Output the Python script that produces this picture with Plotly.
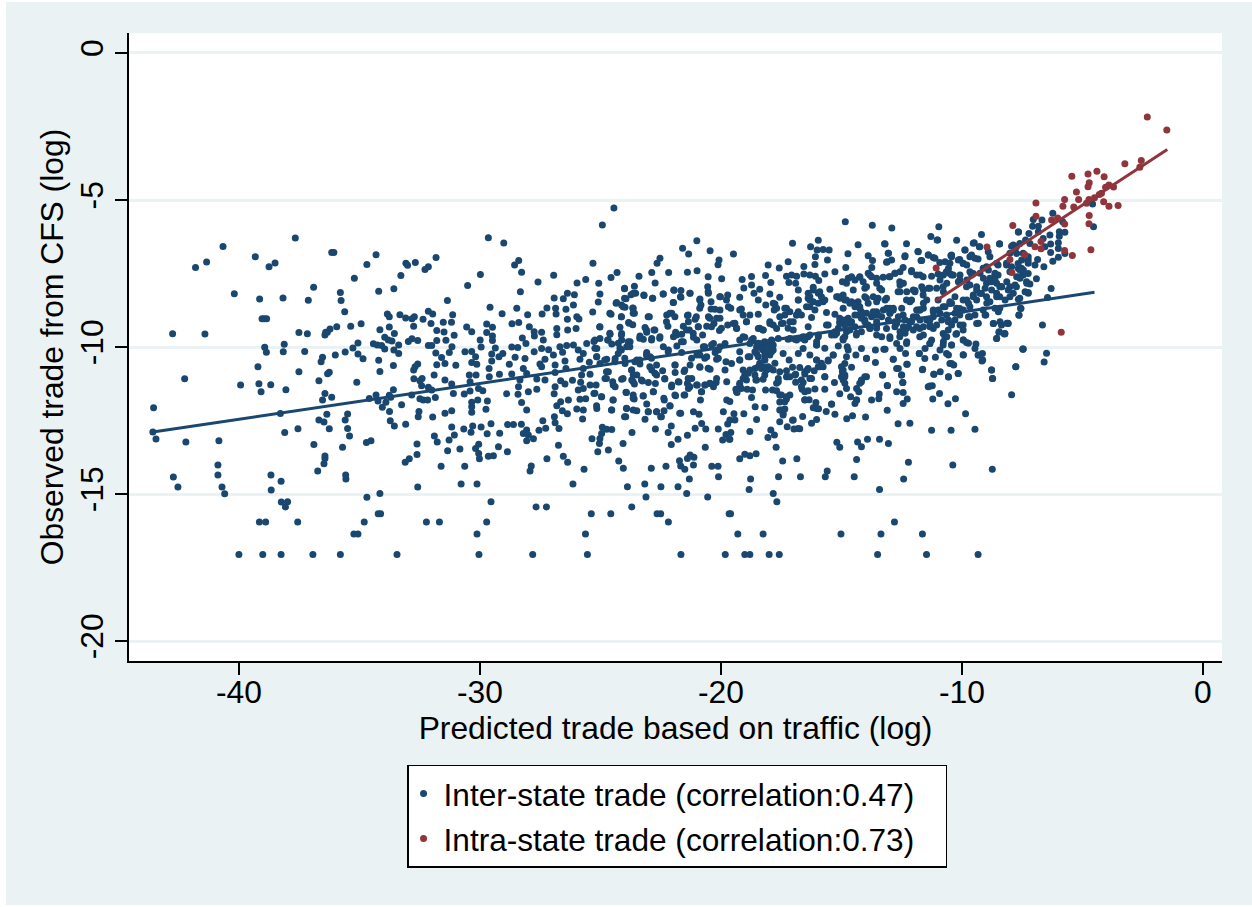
import plotly.graph_objects as go

inter_points = [
(-40.66,-6.58),(-37.66,-6.29),(-36.06,-6.79),(-36.15,-6.79),(-34.31,-6.86),(-39.32,-6.93),(-41.34,-7.11),(-41.80,-7.30),(-38.75,-7.27),(-38.50,-7.14),(-34.69,-7.19),(-33.07,-7.15),(-33.0,-7.22),(-32.68,-7.13),(-32.28,-7.36),(-32.14,-7.27),(-33.28,-7.57),(-35.21,-7.66),(-36.90,-7.97),(-34.20,-8.10),(-33.57,-8.02),(-35.79,-8.15),(-40.19,-8.19),(-39.14,-8.37),(-38.17,-8.33),(-37.12,-8.41),(-35.76,-8.42),(-35.61,-8.80),(-33.84,-8.88),(-33.76,-8.97),(-33.32,-8.90),(-33.08,-9.01),(-32.72,-8.97),(-32.82,-9.04),(-32.36,-9.06),(-32.14,-8.78),(-38.95,-9.04),(-39.04,-9.04),(-38.85,-9.04),(-35.36,-9.29),(-34.93,-9.21),(-35.94,-9.31),(-36.22,-9.39),(-36.33,-9.50),(-36.43,-9.59),(-36.40,-9.50),(-37.51,-9.51),(-37.16,-9.55),(-42.75,-9.55),(-41.41,-9.56),(-34.15,-9.41),(-33.76,-9.32),(-33.55,-9.54),(-32.75,-9.29),(-38.12,-9.91),(-38.93,-10.01),(-38.86,-10.18),(-38.16,-10.16),(-37.27,-10.15),(-36.0,-10.27),(-35.59,-10.17),(-35.27,-10.03),(-35.06,-9.86),(-35.06,-10.24),(-34.85,-10.40),(-34.42,-9.89),(-34.26,-9.93),(-34.08,-9.95),(-33.95,-9.67),(-33.80,-9.76),(-33.65,-9.80),(-32.97,-9.81),(-32.82,-9.72),(-32.58,-9.78),(-33.95,-10.07),(-33.57,-10.10),(-33.37,-9.93),(-33.37,-10.22),(-32.14,-9.95),(-36.53,-10.35),(-36.59,-10.50),(-39.21,-10.67),(-37.51,-10.84),(-36.25,-10.86),(-36.32,-10.91),(-34.20,-10.45),(-34.15,-10.83),(-33.59,-10.63),(-32.58,-10.58),(-32.69,-10.67),(-32.75,-10.78),(-42.25,-11.08),(-36.68,-11.15),(-35.11,-11.20),(-32.74,-11.08),(-32.40,-11.07),(-32.49,-11.15),(-39.93,-11.29),(-39.17,-11.25),(-38.68,-11.28),(-38.05,-11.45),(-39.08,-11.52),(-36.43,-11.58),(-33.59,-11.45),(-32.42,-11.32),(-32.14,-11.37),(-36.15,-11.71),(-36.53,-11.80),(-34.59,-11.75),(-34.31,-11.63),(-33.76,-11.64),(-33.70,-11.71),(-34.23,-11.84),(-32.83,-11.63),(-32.49,-11.76),(-32.35,-11.80),(-32.17,-11.80),(-43.54,-12.07),(-33.90,-11.88),(-34.05,-12.05),(-33.25,-11.96),(-33.75,-12.19),(-38.28,-12.26),(-36.35,-12.29),(-35.49,-12.28),(-32.53,-12.19),(-32.56,-12.37),(-36.68,-12.48),(-36.47,-12.55),(-35.59,-12.48),(-33.72,-12.51),(-33.55,-12.69),(-33.08,-12.63),(-43.57,-12.89),(-37.55,-12.78),(-36.25,-12.78),(-35.49,-12.77),(-38.10,-12.91),(-35.41,-13.03),(-43.44,-13.13),(-42.20,-13.23),(-40.83,-13.19),(-34.71,-13.25),(-34.52,-13.19),(-36.89,-13.32),(-35.70,-13.41),(-32.61,-13.30),(-36.43,-13.71),(-36.43,-13.79),(-32.61,-13.66),(-32.93,-13.80),(-33.10,-13.92),(-36.47,-13.97),(-40.87,-14.01),(-36.73,-14.22),(-35.57,-14.35),(-35.56,-14.49),(-40.87,-14.35),(-42.72,-14.42),(-38.67,-14.35),(-38.25,-14.57),(-42.53,-14.76),(-40.70,-14.76),(-38.66,-14.86),(-32.58,-14.76),(-40.59,-14.99),(-34.15,-14.98),(-34.69,-15.11),(-38.24,-15.27),(-37.98,-15.26),(-38.07,-15.44),(-34.12,-15.67),(-34.22,-15.67),(-39.15,-15.95),(-38.89,-15.95),(-37.56,-15.95),(-34.80,-15.95),(-32.22,-15.95),(-35.23,-16.36),(-35.06,-16.36),(-40.0,-17.06),(-39.01,-17.06),(-38.25,-17.06),(-36.93,-17.06),(-35.79,-17.06),(-33.44,-17.06),
(-24.44,-5.27),(-24.92,-5.85),(-29.65,-6.28),(-29.01,-6.46),(-31.82,-6.96),(-28.39,-7.06),(-28.56,-7.21),(-28.27,-7.46),(-29.98,-7.53),(-30.51,-7.91),(-27.59,-7.79),(-26.94,-7.56),(-25.97,-7.82),(-25.61,-7.70),(-25.31,-7.15),(-25.07,-7.83),(-24.56,-7.64),(-24.31,-7.47),(-23.40,-7.59),(-22.87,-7.47),(-22.73,-7.82),(-22.17,-7.47),(-22.53,-6.98),(-22.65,-7.15),(-21.59,-6.64),(-21.34,-6.84),(-21.0,-6.39),(-20.45,-6.73),(-20.08,-7.04),(-20.12,-7.20),(-21.39,-7.46),(-20.99,-7.41),(-20.53,-7.61),(-19.97,-7.68),
(-24.0,-8.02),(-23.59,-7.93),(-28.32,-8.12),(-26.92,-8.33),(-26.54,-8.36),(-26.37,-8.17),(-26.08,-8.22),(-25.02,-8.20),(-25.09,-8.47),(-23.73,-8.22),(-23.54,-8.17),(-23.19,-8.25),(-22.83,-8.34),(-22.39,-8.20),(-21.95,-8.07),(-21.66,-8.08),(-21.66,-8.31),(-21.28,-8.17),(-20.55,-7.95),(-20.52,-8.17),(-20.87,-8.37),(-20.02,-8.29),(-19.72,-8.23),(-23.94,-8.36),
(-31.35,-8.42),(-29.58,-8.65),(-28.47,-8.68),(-27.22,-8.67),(-26.86,-8.68),(-26.43,-8.72),(-26.12,-8.57),(-25.32,-8.81),(-24.35,-8.51),(-24.12,-8.57),(-23.98,-8.65),(-23.66,-8.67),(-21.97,-8.49),(-20.83,-8.57),(-20.41,-8.46),(-20.41,-8.71),(-20.04,-8.74),(-19.69,-8.63),
(-29.08,-8.87),(-31.13,-8.90),(-31.96,-8.88),(-28.02,-8.90),(-27.42,-8.88),(-26.84,-8.88),(-25.98,-8.97),(-24.56,-8.89),(-23.59,-8.85),(-22.97,-8.97),(-22.25,-8.91),(-22.04,-8.85),(-21.91,-8.97),(-21.39,-8.93),(-20.52,-8.97),(-20.04,-9.02),
(-26.37,-9.06),(-25.89,-9.05),(-24.13,-8.97),(-31.52,-9.16),(-31.18,-9.16),(-32.03,-9.20),(-29.72,-9.22),(-28.67,-9.21),(-28.39,-9.17),(-23.83,-9.17),(-23.66,-9.24),(-22.2,-9.29),(-21.07,-9.06),(-21.35,-9.14),(-21.56,-9.29),(-20.59,-9.29),(-20.29,-9.20),(-19.72,-9.25),
(-30.55,-9.32),(-30.34,-9.48),(-29.48,-9.33),(-31.79,-9.44),(-31.49,-9.49),(-31.07,-9.60),(-27.95,-9.31),(-26.81,-9.37),(-26.36,-9.42),(-26.01,-9.37),(-25.02,-9.32),(-24.19,-9.33),(-23.15,-9.34),(-22.78,-9.42),(-23.08,-9.50),(-21.88,-9.50),(-21.63,-9.57),(-21.31,-9.42),(-20.94,-9.31),(-20.06,-9.44),
(-29.72,-9.51),(-29.48,-9.63),(-27.75,-9.48),(-27.44,-9.50),(-26.81,-9.58),(-27.74,-9.63),(-24.6,-9.57),(-24.12,-9.54),(-23.36,-9.63),(-22.53,-9.65),(-21.97,-9.65),(-20.76,-9.59),(-21.14,-9.67),
(-29.99,-9.76),(-29.48,-9.78),(-28.24,-9.69),(-27.37,-9.76),(-28.09,-9.88),(-31.79,-9.78),(-31.41,-9.77),(-32.0,-9.95),(-31.16,-9.99),(-25.57,-9.88),(-25.27,-9.81),(-25.02,-9.71),(-24.7,-9.76),(-24.53,-9.90),(-24.12,-9.76),(-23.77,-9.82),(-23.22,-9.74),(-22.87,-9.71),(-21.83,-9.97),(-21.56,-9.82),(-21.0,-9.76),(-20.31,-9.88),(-19.83,-9.88),
(-29.95,-10.0),(-29.36,-10.03),(-28.68,-10.0),(-28.43,-10.02),(-27.44,-10.05),(-27.15,-10.09),(-26.68,-9.99),(-26.4,-9.95),(-26.12,-9.93),(-25.92,-10.10),(-25.15,-10.05),(-24.19,-10.05),(-23.91,-9.99),(-22.39,-9.99),(-22.18,-10.10),(-20.73,-9.99),(-20.04,-9.99),
(-30.62,-10.16),(-30.34,-10.15),(-31.83,-10.20),(-31.27,-10.19),(-29.51,-10.24),(-29.05,-10.22),(-27.75,-10.16),(-26.95,-10.27),(-26.57,-10.18),(-25.71,-10.22),(-24.26,-10.22),(-23.08,-10.19),(-21.63,-10.19),(-20.87,-10.27),(-20.24,-10.19),
(-31.59,-10.36),(-30.18,-10.33),(-29.21,-10.33),(-28.13,-10.39),(-28.54,-10.35),(-27.3,-10.42),(-26.47,-10.48),(-25.85,-10.42),(-25.15,-10.33),(-24.74,-10.42),(-24.39,-10.39),(-23.49,-10.44),(-22.94,-10.33),(-20.59,-10.33),(-20.18,-10.42),(-19.79,-10.50),
(-31.79,-10.60),(-31.45,-10.56),(-31.0,-10.62),(-30.34,-10.53),(-30.13,-10.59),(-29.51,-10.48),(-28.78,-10.59),(-27.51,-10.58),(-26.88,-10.61),(-25.46,-10.52),(-25.02,-10.56),(-23.98,-10.56),(-23.36,-10.58),(-22.67,-10.61),(-21.9,-10.61),(-21.28,-10.61),(-20.87,-10.69),
(-29.62,-10.73),(-28.2,-10.73),(-27.44,-10.67),(-26.43,-10.73),(-25.71,-10.73),(-24.67,-10.84),(-23.7,-10.78),(-22.87,-10.78),(-22.42,-10.81),(-21.53,-10.83),(-20.45,-10.76),(-19.83,-10.78),
(-31.9,-10.95),(-30.44,-10.95),(-30.16,-10.95),(-29.19,-10.93),(-28.68,-10.92),(-29.61,-11.01),(-28.06,-10.90),(-26.88,-10.87),(-25.43,-10.93),(-25.78,-10.95),(-23.49,-10.95),(-22.67,-10.95),(-21.9,-10.87),
(-31.45,-11.12),(-30.41,-11.18),(-31.17,-11.26),(-27.64,-11.09),(-27.3,-11.12),(-28.34,-11.12),(-26.65,-11.15),(-26.16,-11.13),(-24.81,-11.07),(-24.49,-11.18),(-24.12,-11.10),(-23.7,-11.12),(-23.26,-11.16),(-22.33,-11.09),(-21.74,-11.19),(-21.21,-11.07),(-20.45,-11.24),(-19.76,-11.18),
(-28.4,-11.35),(-26.88,-11.35),(-26.47,-11.26),(-25.82,-11.20),(-25.43,-11.29),(-25.18,-11.29),(-24.39,-11.35),(-23.59,-11.26),(-23.01,-11.21),(-22.72,-11.24),(-22.04,-11.29),(-21.39,-11.24),(-20.98,-11.29),(-20.66,-11.29),(-20.2,-11.21),
(-32.0,-11.46),(-30.06,-11.41),(-29.88,-11.49),(-30.41,-11.5),(-30.65,-11.60),(-31.1,-11.58),(-28.89,-11.59),(-28.42,-11.61),(-27.99,-11.52),(-27.64,-11.44),(-26.92,-11.59),(-25.92,-11.46),(-25.71,-11.41),(-25.27,-11.58),(-24.95,-11.69),(-23.94,-11.54),(-23.22,-11.66),(-22.8,-11.52),(-21.88,-11.66),(-21.53,-11.63),(-21.35,-11.41),(-20.8,-11.52),(-20.31,-11.35),
(-31.85,-11.72),(-30.09,-11.80),(-29.69,-11.84),(-30.34,-11.88),(-28.27,-11.89),(-26.65,-11.86),(-26.33,-11.80),(-25.85,-11.78),(-25.61,-11.76),(-24.48,-11.80),(-23.6,-11.77),(-22.35,-11.80),(-20.85,-11.80),(-19.76,-11.80),
(-30.34,-12.03),(-29.75,-12.12),(-28.06,-12.14),(-26.81,-12.0),(-26.58,-12.17),(-26.37,-12.27),(-25.98,-12.11),(-25.71,-12.14),(-25.15,-12.09),(-24.53,-12.14),(-23.91,-12.09),(-23.49,-12.17),(-23.08,-11.94),(-23.01,-12.2),(-22.67,-12.2),(-22.36,-12.17),(-22.11,-12.01),(-21.67,-12.25),(-21.14,-12.2),(-20.91,-12.29),(-19.9,-12.2),
(-31.45,-12.25),(-31.17,-12.17),(-31.96,-12.38),(-30.34,-12.22),(-26.91,-12.37),(-25.74,-12.45),(-23.95,-12.37),(-23.15,-12.46),(-22.5,-12.37),(-27.39,-12.51),
(-31.17,-12.72),(-30.3,-12.69),(-29.95,-12.72),(-29.54,-12.61),(-28.85,-12.64),(-28.61,-12.64),(-28.28,-12.63),(-26.88,-12.58),(-27.27,-12.76),(-26.72,-12.77),(-27.55,-12.83),(-30.67,-12.79),(-30.37,-12.90),(-29.7,-12.95),(-29.18,-12.93),(-28.06,-12.82),(-28.2,-12.94),(-24.92,-12.73),(-24.74,-12.80),(-24.53,-12.81),(-23.69,-12.91),(-22.72,-12.79),(-22.06,-12.69),(-21.07,-12.76),(-20.8,-12.6),(-20.63,-12.79),(-20.11,-12.79),(-19.72,-12.62),(-22.19,-12.91),(-19.79,-12.98),
(-31.89,-13.03),(-31.77,-13.23),(-31.28,-13.16),(-31.06,-12.99),(-28.06,-13.19),(-27.78,-13.12),(-27.99,-12.99),(-24.95,-12.94),(-25.02,-13.11),(-25.35,-13.12),(-25.04,-13.28),(-24.06,-13.28),(-21.39,-13.0),(-21.78,-13.14),(-22.06,-13.32),(-19.93,-13.16),(-19.65,-13.14),
(-31.34,-13.53),(-30.83,-13.47),(-30.18,-13.45),(-30.05,-13.31),(-30.05,-13.62),(-30.02,-13.80),(-29.65,-13.72),(-29.44,-13.70),(-29.23,-13.39),(-28.86,-13.56),(-26.74,-13.34),(-26.54,-13.72),(-26.36,-13.92),(-27.22,-13.80),(-25.11,-13.56),(-24.67,-13.50),(-24.24,-13.88),(-24.05,-14.12),(-20.65,-13.41),(-21.72,-13.87),(-21.67,-14.05),(-21.5,-14.16),(-21.39,-13.79),(-21.28,-13.67),(-21.12,-13.75),(-21.14,-14.01),(-22.28,-14.06),(-22.89,-14.12),
(-31.61,-14.06),(-30.63,-14.06),(-27.92,-14.22),(-27.87,-14.05),(-25.68,-14.16),(-20.38,-14.06),(-20.12,-14.06),(-20.1,-14.41),(-21.31,-14.49),
(-30.78,-14.66),(-30.12,-14.66),(-26.14,-14.66),(-23.88,-14.75),(-23.16,-14.66),(-22.49,-14.75),(-21.78,-14.75),(-21.42,-14.98),(-23.11,-15.10),(-20.55,-15.10),
(-29.54,-15.26),(-27.67,-15.44),(-27.24,-15.44),(-23.7,-15.44),(-25.38,-15.67),(-24.57,-15.67),(-22.65,-15.67),(-22.5,-15.67),(-19.66,-15.67),(-31.68,-15.95),(-29.72,-15.95),(-22.18,-15.95),(-30.12,-16.36),(-25.62,-16.36),
(-30.04,-17.06),(-27.81,-17.06),(-25.54,-17.06),(-21.66,-17.06),(-19.82,-17.06),
(-14.84,-5.74),(-13.72,-5.86),(-12.91,-5.95),(-10.96,-5.91),(-17.03,-6.47),(-15.96,-6.37),(-19.48,-6.84),(-16.28,-6.59),(-16.01,-6.70),(-15.76,-6.68),(-15.51,-6.70),(-14.31,-6.52),(-13.21,-6.49),(-12.30,-6.49),(-11.29,-6.24),(-11.01,-6.36),(-10.22,-6.37),(-9.19,-6.17),(-9.28,-6.59),(-9.49,-6.45),(-9.88,-6.70),(-8.91,-6.76),(-8.44,-6.49),(-7.87,-6.53),(-7.65,-6.09),
(-14.73,-6.83),(-16.08,-6.93),(-15.58,-7.04),(-16.10,-7.19),(-17.21,-7.10),(-18.04,-7.21),(-17.58,-7.31),(-16.56,-7.26),(-14.82,-7.30),(-13.89,-6.90),(-13.71,-7.06),(-13.74,-7.30),(-13.06,-6.81),(-13.13,-7.12),(-12.92,-7.04),(-12.37,-6.93),(-12.44,-7.30),(-11.83,-6.75),(-11.70,-7.06),(-11.40,-6.87),(-11.19,-6.96),(-10.92,-7.13),(-10.46,-6.89),(-10.09,-7.02),(-9.67,-6.93),(-9.33,-7.01),(-9.95,-7.15),(-10.50,-7.15),(-8.98,-7.27),(-8.50,-7.21),(-8.01,-6.81),(-7.74,-6.59),(-7.46,-6.81),(-7.53,-7.32),(-7.25,-6.93),(-8.15,-7.15),
(-19.12,-7.70),(-18.73,-7.60),(-18.15,-7.57),(-17.93,-7.81),(-19.05,-7.99),(-18.73,-7.89),(-18.39,-8.04),(-18.63,-8.17),(-19.22,-8.31),(-17.28,-7.59),(-17.07,-7.55),(-16.86,-7.59),(-17.18,-7.81),(-16.9,-7.83),(-16.79,-8.06),(-16.56,-7.52),(-16.31,-7.55),(-16.08,-7.59),(-15.94,-7.74),(-16.17,-7.97),(-15.69,-7.52),(-15.27,-7.44),(-15.48,-8.04),(-14.96,-7.78),(-14.72,-7.66),(-14.24,-7.63),(-14.51,-8.06),(-13.89,-7.49),(-13.54,-7.66),(-13.27,-7.63),(-13.02,-7.61),(-12.78,-7.49),(-12.58,-7.78),(-12.09,-7.40),(-11.88,-7.55),(-11.61,-7.61),(-14.03,-8.0),(-13.41,-8.0),(-12.65,-8.12),(-11.95,-8.08),(-11.33,-8.0),(-11.26,-7.59),(-10.99,-7.52),(-10.64,-7.44),(-10.36,-7.55),(-9.67,-7.44),(-9.12,-7.32),(-8.63,-7.55),(-8.01,-7.44),(-7.46,-7.55),(-10.78,-7.95),(-10.09,-7.72),(-9.39,-7.95),(-8.98,-7.83),(-8.43,-7.95),(-7.74,-7.95),(-7.32,-7.78),
(-18.45,-8.40),(-17.97,-8.20),(-17.56,-8.31),(-18.14,-8.57),(-17.76,-8.54),(-16.79,-8.40),(-16.38,-8.34),(-15.96,-8.17),(-15.76,-8.46),(-16.31,-8.63),(-15.13,-8.29),(-14.79,-8.40),(-14.44,-8.51),(-13.96,-8.34),(-13.48,-8.34),(-13.13,-8.34),(-12.30,-8.40),(-12.09,-8.40),(-11.61,-8.23),(-10.99,-8.40),(-10.43,-8.51),(-9.95,-8.40),(-9.53,-8.29),(-8.98,-8.29),(-8.56,-8.17),(-8.01,-8.29),(-7.60,-8.34),(-7.25,-8.17),(-9.67,-8.63),(-9.12,-8.74),(-10.78,-8.63),(-10.22,-8.68),(-12.85,-8.68),(-13.54,-8.80),(-14.24,-8.68),(-14.93,-8.68),(-17.28,-8.68),(-16.79,-8.80),(-17.79,-8.74),(-19.15,-8.71),(-19.59,-8.68),(-11.75,-8.74),(-11.19,-8.80),(-8.43,-8.68),(-7.57,-8.68),
(-19.08,-8.91),(-18.45,-8.89),(-16.24,-9.0),(-15.62,-8.83),(-15.27,-8.89),(-14.17,-8.97),(-17.35,-8.91),(-16.86,-8.91),(-13.61,-8.91),(-12.99,-8.85),(-12.44,-8.91),(-11.88,-8.97),(-10.64,-8.91),(-10.09,-8.91),(-9.46,-8.91),(-9.01,-8.91),(-7.63,-8.91),(-18.94,-9.14),(-19.49,-9.2),(-17.97,-9.20),(-17.49,-9.20),(-17,-9.14),(-15.55,-9.25),(-15.07,-9.14),(-14.65,-9.20),(-14.03,-9.08),(-13.54,-9.25),(-12.71,-9.20),(-12.09,-9.14),(-11.33,-9.25),(-10.57,-9.14),(-9.95,-9.25),(-9.39,-9.20),(-8.7,-9.20),(-8.36,-9.25),(-8.08,-9.20),(-19.35,-9.37),(-18.45,-9.37),(-18.25,-9.42),(-17.69,-9.37),(-16.38,-9.31),(-15.27,-9.48),(-14.38,-9.59),(-13.82,-9.37),(-13.13,-9.37),(-12.30,-9.37),(-11.75,-9.37),(-11.19,-9.37),(-10.57,-9.42),(-10.22,-9.54),(-8.45,-9.48),(-8.22,-9.54),(-8.56,-9.71),
(-19.08,-9.65),(-18.66,-9.71),(-17.62,-9.71),(-17.14,-9.71),(-16.59,-9.65),(-15.96,-9.65),(-14.93,-9.71),(-13.54,-9.59),(-12.99,-9.71),(-12.58,-9.65),(-11.75,-9.65),(-10.71,-9.65),(-9.95,-9.76),(-9.81,-9.85),(-18.8,-9.88),(-18.25,-9.93),(-17.9,-9.88),(-16.03,-9.93),(-16.59,-10.05),(-15.13,-9.97),(-14.76,-9.99),(-14.17,-10.05),(-13.59,-10.10),(-13.24,-10.08),(-12.71,-9.88),(-12.3,-9.88),(-11.33,-9.88),(-10.78,-9.93),(-10.43,-9.93),(-9.42,-9.90),(-7.46,-10.07),(-19.22,-10.16),(-18.52,-10.22),(-17.9,-10.16),(-17.42,-10.22),(-16.79,-10.22),(-16.31,-10.27),(-15.34,-10.27),(-14.72,-10.10),(-14.4,-10.27),(-13.96,-10.39),(-12.34,-10.22),(-11.77,-10.22),(-11.54,-10.39),(-11.10,-10.35),(-10.64,-10.22),(-9.95,-10.26),(-9.33,-10.27),(-9.15,-10.22),
(-19.56,-10.56),(-19.22,-10.44),(-18.87,-10.33),(-18.18,-10.44),(-17.17,-10.44),(-16.03,-10.44),(-15.55,-10.48),(-14.86,-10.56),(-13.59,-10.53),(-12.85,-10.42),(-12.27,-10.59),(-10.5,-10.56),(-10.34,-10.61),(-9.17,-10.48),(-7.76,-10.67),(-19.08,-10.78),(-18.45,-10.67),(-17.97,-10.73),(-17.56,-10.84),(-17.28,-10.81),(-17.03,-10.69),(-16.73,-10.70),(-16.42,-10.78),(-16.13,-10.81),(-15.9,-10.67),(-14.58,-10.69),(-12.71,-10.73),(-12.51,-10.95),(-11.64,-10.77),(-8.77,-10.78),(-11.17,-10.93),(-10.90,-10.84),(-10.56,-11.02),(-10.16,-10.9),(-17.25,-11.01),(-16.9,-10.93),(-16.52,-10.92),(-16.28,-11.07),(-15.69,-11.01),(-14.96,-10.84),(-14.86,-11.01),(-13.96,-11.01),(-13.3,-10.95),(-8.73,-11.07),
(-19.01,-11.01),(-18.55,-11.12),(-18.25,-11.10),(-17.62,-11.18),(-16.9,-11.20),(-16.59,-11.21),(-15.29,-11.21),(-14.93,-11.12),(-14.17,-11.18),(-19.22,-11.29),(-18.91,-11.44),(-19.38,-11.44),(-18.69,-11.46),(-18.15,-11.46),(-17.86,-11.46),(-17.69,-11.49),(-16.63,-11.44),(-16.38,-11.49),(-16.10,-11.43),(-15.69,-11.44),(-14.79,-11.41),(-14.28,-11.52),(-13.09,-11.32),(-12.45,-11.21),(-11.4,-11.35),(-11.23,-11.32),(-12.71,-11.52),(-12.44,-11.55),(-19.33,-11.55),(-15.07,-11.59),(-17.56,-11.63),(-17.14,-11.63),(-14.62,-11.69),(-13.43,-11.60),(-10.93,-11.58),(-7.94,-11.62),(-18.73,-11.72),(-17.28,-11.77),(-16.52,-11.79),(-16.34,-11.79),(-14.37,-11.80),(-13.75,-11.80),(-13.45,-11.76),(-12.27,-11.77),(-11.21,-11.77),(-10.27,-11.76),
(-17.56,-11.87),(-16.06,-11.89),(-15.41,-11.95),(-14.44,-11.92),(-12.44,-11.92),(-10.58,-11.93),(-19.63,-11.85),(-18.58,-12.03),(-18.18,-12.06),(-16.17,-12.07),(-15.95,-12.10),(-15.63,-12.19),(-17.56,-12.14),(-17.35,-12.11),(-13.1,-12.15),(-15.27,-12.29),(-19.46,-12.27),(-19.05,-12.27),(-9.85,-12.27),(-17.42,-12.26),(-14.54,-12.34),(-16.61,-12.36),(-14.78,-12.44),(-14.0,-12.38),(-19.63,-12.48),(-19.42,-12.48),(-18.52,-12.47),(-17.56,-12.54),(-17.03,-12.49),(-16.03,-12.47),(-16.24,-12.59),(-12.65,-12.61),(-12.16,-12.59),(-17.25,-12.71),(-16.97,-12.79),(-16.73,-12.78),(-17.93,-12.82),(-18.8,-12.87),(-11.26,-12.83),(-10.45,-12.83),(-9.46,-12.80),(-19.59,-12.91),
(-17.78,-12.99),(-18.05,-13.08),(-19.63,-13.14),(-15.19,-13.24),(-15.07,-13.41),(-14.33,-13.23),(-14.17,-13.39),(-13.92,-13.14),(-13.42,-13.14),(-13.05,-13.28),(-17.71,-13.41),(-19.01,-13.65),(-18.8,-13.70),(-18.54,-13.63),(-19.22,-13.80),(-17.44,-13.88),(-16.85,-13.80),(-14.37,-13.83),(-12.22,-13.92),(-10.38,-14.01),(-15.59,-14.22),(-8.74,-14.16),(-17.61,-14.41),(-16.70,-14.41),(-15.67,-14.41),(-14.47,-14.41),(-18.77,-14.49),(-12.42,-14.49),(-18.83,-14.85),(-13.42,-14.85),(-17.83,-14.98),(-17.68,-15.26),(-19.6,-15.67),(-12.8,-15.95),(-19.3,-16.36),(-18.25,-16.36),(-15.02,-16.36),(-13.36,-16.36),(-11.64,-16.36),
(-19.01,-17.06),(-18.8,-17.06),(-18.0,-17.06),(-17.58,-17.06),(-13.5,-17.06),(-11.47,-17.06),(-9.33,-17.06),
(-4.58,-5.14),(-4.54,-5.91),(-6.23,-5.45),(-7.04,-5.66),(-6.68,-5.68),(-5.82,-5.74),(-6.83,-5.89),(-7.07,-5.89),(-7.22,-6.14),(-6.83,-6.08),(-5.96,-6.08),(-5.73,-6.10),(-6.35,-6.19),(-7.66,-6.09),(-5.96,-6.23),(-7.36,-6.36),(-6.63,-6.31),(-8.44,-6.5),(-6.32,-6.5),(-6.0,-6.45),(-6.0,-6.65),(-7.94,-6.57),(-7.6,-6.48),(-7.18,-6.48),(-6.56,-6.59),(-6.32,-6.79),(-5.73,-6.82),(-6.0,-6.95),(-6.23,-7.08),(-6.86,-7.02),(-6.6,-7.27),(-6.91,-7.68),(-7.73,-6.82),(-7.25,-7.04),(-8.15,-7.21),(-8.84,-6.93),(-7.67,-7.16),(-6.97,-7.21),(-7.25,-7.5),(-7.6,-7.61),(-8.01,-7.95),(-7.18,-7.86),(-7.66,-7.33),(-8.5,-7.55),(-8.77,-7.78),(-8.36,-7.95),(-9.19,-8.18),(-6.3,-8.01),(-6.45,-8.32),(-7.25,-8.15),(-7.66,-8.38),(-8.43,-8.29),(-8.84,-8.46),(-8.49,-8.8),(-7.55,-8.69),(-7.64,-8.92),(-8.69,-9.2),(-8.09,-9.19),(-8.47,-9.5),(-8.22,-9.55),(-6.66,-9.25),(-7.47,-10.08),(-6.49,-10.21),(-6.59,-10.51),
(-9.81,-7.95),(-9.53,-7.5),(-9.95,-7.16),(-10.43,-6.93),(-9.6,-6.87),(-11.03,-6.36),(-9.26,-6.59),(-10.5,-7.5),(-10.5,-8.52),(-10.09,-8.69),(-9.67,-8.97),(-10.29,-9.08),(-9.95,-9.42),(-10.78,-9.54),(-11.26,-9.76),
]

inter_points_dense = [
(-19.22,-9.76),(-19.01,-9.67),(-18.73,-9.76),(-18.45,-9.87),(-18.18,-9.82),(-17.9,-9.76),(-17.21,-9.74),(-16.93,-9.74),(-16.66,-9.70),(-16.38,-9.65),(-16.03,-9.82),(-15.96,-9.59),(-15.27,-9.59),(-15.13,-9.36),(-14.86,-9.25),(-14.58,-9.14),(-14.31,-8.91),(-14.03,-9.14),(-13.75,-8.97),(-13.54,-9.14),(-13.82,-9.36),(-14.65,-9.42),(-14.37,-9.53),(-14.86,-9.65),(-15.07,-9.19),(-14.72,-9.02),(-14.58,-8.46),(-14.31,-8.46),(-14.44,-8.63),(-14.93,-8.23),(-15.2,-8.29),(-14.79,-7.83),(-14.58,-7.61),(-14.24,-7.61),(-13.96,-7.95),(-13.75,-7.61),(-13.54,-7.83),(-13.68,-8.29),(-14.03,-8.29),(-16.38,-8.17),(-16.17,-8.06),(-15.9,-8.12),(-15.69,-8.40),(-15.96,-8.51),(-16.31,-8.40),(-16.45,-8.63),(-16.1,-8.74),(-16.79,-8.40),(-17.35,-8.68),(-17.14,-8.80),(-16.86,-8.91),(-16.66,-8.91),(-17.56,-8.97),(-17.42,-9.19),(-17.14,-9.14),(-17.69,-8.68),(-17.83,-8.51),(-17.97,-9.14),(-17.83,-9.25),(-18.39,-9.36),(-18.25,-9.42),(-19.22,-8.74),(-18.8,-8.91),(-18.94,-9.14),(-19.42,-9.19),(-19.35,-9.36),
(-18.39,-9.93),(-18.25,-10.10),(-17.97,-10.04),(-17.83,-9.93),(-18.45,-10.33),(-18.18,-10.44),(-17.97,-10.27),(-17.76,-10.55),(-18.04,-10.67),(-18.32,-10.73),(-18.59,-10.73),(-17.83,-10.78),(-18.8,-10.33),(-19.22,-10.44),(-19.01,-10.95),(-18.87,-10.89),(-19.22,-11.23),(-18.52,-11.12),(-18.18,-10.95),(-17.62,-11.07),(-17.69,-11.23),(-17.28,-11.01),(-17.14,-11.01),(-16.93,-10.95),(-16.66,-11.12),(-16.38,-10.73),(-16.24,-11.07),(-15.69,-11.01),(-16.03,-10.44),(-15.76,-10.67),(-15.55,-10.44),(-16.03,-9.93),(-15.69,-10.04),(-15.34,-10.27),(-14.79,-10.33),(-14.93,-10.78),(-15.0,-11.01),(-14.86,-11.23),(-13.96,-10.38),(-14.03,-11.01),(-14.24,-11.23),(-14.37,-11.80),(-17.49,-11.63),(-17.28,-11.69),(-17.35,-11.86),(-17.49,-12.14),(-17.42,-12.31),(-16.52,-11.80),(-16.03,-12.09),(-15.41,-11.94),(-17.0,-12.48),(-16.8,-12.77),
(-12.78,-7.49),(-12.57,-7.44),(-12.09,-7.44),(-11.74,-7.55),(-10.63,-7.44),(-10.43,-7.55),(-10.15,-7.04),(-9.8,-7.21),(-9.46,-6.98),(-9.87,-6.70),(-9.53,-6.47),(-10.43,-6.87),(-10.91,-7.72),(-10.63,-7.83),(-10.15,-7.78),(-9.67,-7.89),(-9.39,-8.06),(-9.11,-7.66),(-8.63,-7.49),(-8.56,-7.83),(-8.77,-8.06),(-8.14,-7.78),(-7.73,-7.61),(-7.45,-7.38),(-7.31,-7.83),(-7.87,-8.17),(-8.21,-8.40),(-8.56,-8.29),(-8.97,-8.51),(-9.39,-8.40),(-9.8,-8.40),(-10.29,-8.29),(-10.5,-8.46),(-12.43,-7.83),(-12.57,-8.12),(-11.95,-8.12),(-11.6,-8.06),(-11.46,-8.40),(-12.16,-8.46),(-13.19,-8.40),(-13.33,-8.06),(-12.99,-7.61),
(-13.26,-8.74),(-12.85,-8.74),(-12.5,-8.68),(-12.36,-9.08),(-12.02,-8.97),(-11.74,-8.74),(-11.46,-9.08),(-11.19,-8.74),(-10.91,-8.85),(-12.78,-9.31),(-12.57,-9.48),(-12.22,-9.31),(-11.88,-9.31),(-11.6,-9.59),(-11.33,-9.31),(-11.05,-9.25),(-13.05,-9.08),(-13.33,-8.97),(-12.99,-9.65),(-13.33,-9.65),(-12.29,-9.82),(-12.57,-10.05),(-13.19,-10.08),(-11.77,-10.22),(-11.33,-9.88),(-11.53,-10.05),(-10.91,-10.10),(-10.63,-9.65),(-10.43,-9.25),(-10.77,-9.82),(-10.43,-9.93),(-10.25,-9.57),(-10.56,-10.27),(-10.43,-10.56),(-9.94,-9.76),(-9.73,-9.87),(-9.94,-10.27),(-9.46,-10.05),(-10.08,-9.25),(-9.73,-8.97),(-9.32,-9.19),(-9.04,-8.91),(-8.63,-8.68),(-8.42,-9.14),(-8.14,-9.19),(-8.56,-9.71),(-8.24,-9.56),(-9.32,-10.27),(-9.14,-10.44),(-11.16,-10.93),(-10.56,-11.01),(-10.15,-10.90),(-11.63,-10.76),(-12.29,-10.59),(-12.85,-10.42),(-12.64,-10.73),(-12.5,-10.95),(-12.46,-11.21),(-13.1,-11.31),(-13.29,-10.95),(-11.33,-11.33),(-8.77,-10.78),(-8.73,-11.07),(-7.77,-10.67),(-7.47,-10.07),
(-13.19,-6.5),(-13.05,-6.81),(-13.1,-7.1),(-12.36,-6.9),(-11.81,-6.76),(-11.67,-7.06),(-11.39,-6.87),(-11.12,-6.98),(-10.7,-7.1),
(-25.03,-9.31),(-25.23,-9.76),(-24.68,-9.76),(-24.61,-9.53),(-24.13,-9.59),(-24.26,-9.87),(-23.85,-9.82),(-23.78,-9.99),(-24.13,-10.1),(-25.23,-10.04),(-25.16,-10.33),(-24.82,-10.44),(-24.4,-10.5),(-23.99,-10.38),(-23.57,-10.5),(-23.37,-10.44),(-23.37,-9.7),(-23.09,-9.42),(-22.74,-9.42),(-22.88,-9.76),(-22.54,-9.7),(-23.09,-10.27),(-22.88,-10.38),(-22.19,-10.16),(-21.84,-9.59),(-21.64,-9.82),(-21.43,-9.42),(-21.36,-8.91),(-21.02,-8.97),(-20.94,-9.31),(-21.15,-9.53),(-22.12,-8.85),(-22.26,-9.14),(-20.46,-9.02),(-20.18,-9.02),(-20.39,-9.31),(-19.98,-9.36),(-20.67,-9.99),(-20.39,-9.93),(-20.11,-10.1),(-21.0,-10.27),(-20.67,-10.38),(-21.22,-10.38),(-20.53,-10.72),(-20.88,-10.67),(-20.11,-10.38),(-21.91,-10.61),(-21.5,-10.78),(-23.71,-10.78),(-23.64,-10.95),(-22.95,-10.67),(-22.74,-10.89),(-24.75,-10.84),(-24.75,-11.07),(-24.06,-11.07),(-23.64,-11.18),(-23.3,-11.12),(-24.47,-11.29),(-22.33,-11.07),(-21.77,-11.18),(-21.36,-11.07),(-21.29,-11.35),(-22.05,-11.35),(-21.01,-11.29),(-20.67,-11.29),(-20.46,-11.23),(-20.18,-11.07),(-22.81,-11.52),(-23.64,-11.63),(-23.92,-11.55),(-21.91,-11.63),(-21.5,-11.63),(-20.81,-11.52),(-25.23,-11.57),(-24.96,-11.69),(-24.47,-11.8),(-23.64,-11.74),(-23.23,-11.67),(-22.37,-11.74),(-22.12,-12.0),(-25.16,-12.0),(-24.54,-12.14),(-23.92,-12.08),(-23.64,-12.14),(-23.02,-12.2),(-22.67,-12.2),(-24.0,-12.37),(-22.47,-12.37),(-21.71,-12.25),
(-24.0,-8.0),(-23.64,-8.17),(-24.0,-8.34),(-24.33,-8.49),(-24.06,-8.63),(-23.64,-8.68),(-23.64,-8.85),(-24.61,-8.85),(-24.13,-8.97),(-23.02,-8.97),(-23.81,-9.19),(-23.2,-8.23),(-22.84,-8.34),(-22.4,-8.2),(-21.95,-8.06),(-21.68,-8.29),(-21.29,-8.17),(-20.88,-8.4),(-20.53,-8.12),(-20.05,-8.29),(-19.77,-8.4),(-21.98,-8.49),(-20.88,-8.68),(-20.25,-8.72),
(-15.07,-9.02),(-14.86,-9.08),(-14.44,-8.91),(-14.17,-8.80),(-14.17,-9.02),(-13.96,-8.85),(-13.68,-8.80),(-13.48,-8.91),(-13.89,-9.25),(-13.54,-9.36),(-14.17,-9.48),(-14.44,-9.31),(-14.79,-9.48),(-15.2,-9.53),(-15.41,-9.59),(-15.62,-9.25),(-14.93,-9.76),(-14.65,-8.51),(-14.24,-8.63),(-13.89,-8.51),(-13.54,-8.46),(-15.07,-8.34),(-14.86,-8.40),(-13.82,-7.55),(-14.1,-7.78),(-14.44,-7.72),(-16.17,-8.46),(-16.31,-8.29),(-15.83,-8.29),(-18.11,-9.93),(-18.32,-10.04),(-18.52,-9.99),(-18.59,-10.16),(-18.04,-10.16),(-17.83,-10.10),(-18.18,-10.27),(-18.39,-10.55),(-18.11,-10.78),(-17.97,-10.73),(-18.25,-10.67),(-18.8,-10.78),(-18.59,-10.95),(-19.08,-11.07),(-18.94,-11.12),(-19.15,-11.41),(-19.35,-11.52),(-16.52,-11.52),(-16.66,-11.35),(-16.31,-11.07),(-16.52,-10.84),(-15.96,-10.67),(-15.83,-10.55),(-15.0,-10.67),(-14.86,-10.95),(-14.37,-11.41),(-14.17,-11.12),(-16.86,-9.76),(-16.52,-9.76),(-16.31,-9.59),(-17.0,-9.42),(-17.21,-9.36),
(-13.12,-8.68),(-12.99,-8.85),(-12.64,-8.97),(-12.78,-9.14),(-12.43,-9.31),(-12.16,-9.14),(-12.02,-9.42),(-12.36,-9.53),(-11.74,-9.08),(-11.6,-9.31),(-11.81,-8.74),(-11.6,-8.68),(-11.33,-9.08),(-11.19,-8.97),(-10.98,-8.74),(-10.7,-8.63),(-10.84,-9.08),(-10.56,-9.08),(-10.29,-8.85),(-9.94,-8.74),(-9.73,-8.51),(-9.53,-8.23),(-9.25,-8.17),(-9.04,-8.0),(-8.84,-7.66),(-8.63,-7.72),(-8.35,-7.95),(-8.08,-8.06),(-7.8,-7.89),(-7.59,-7.66),(-7.38,-8.12),(-7.25,-7.15),(-7.52,-7.04),(-7.8,-6.7),(-7.59,-7.38),(-7.94,-7.27),(-9.8,-7.72),(-10.08,-7.55),(-9.6,-7.55),(-9.25,-7.49),(-8.9,-7.38),(-8.56,-7.15),(-10.77,-7.55),(-10.56,-7.32),(-11.05,-8.0),(-10.77,-8.12),(-11.39,-8.0),(-11.67,-7.95),(-12.02,-8.06),(-12.29,-8.12),(-12.57,-7.89),(-11.6,-8.51),(-11.88,-8.74),(-12.99,-8.68),
]

intra_points = [
(-2.31,-2.18),(-1.5,-2.62),(-3.24,-3.77),(-2.56,-3.66),(-2.62,-3.89),(-5.44,-4.19),(-4.77,-4.12),(-4.4,-4.02),(-4.1,-4.21),(-4.72,-4.41),(-4.77,-4.55),(-3.9,-4.49),(-4.04,-4.57),(-3.71,-4.56),(-5.25,-4.73),(-4.21,-4.77),(-4.30,-4.81),(-4.5,-4.92),(-4.73,-4.98),(-4.83,-5.11),(-5.74,-4.98),(-5.16,-4.98),(-6.93,-5.10),(-5.81,-5.21),(-5.36,-5.24),(-4.12,-5.06),(-3.9,-5.21),(-3.52,-5.19),(-4.72,-5.53),(-6.93,-5.55),(-6.28,-5.68),(-6.03,-5.61),(-5.74,-5.82),(-4.73,-5.81),(-7.89,-5.87),(-6.72,-6.41),(-6.97,-6.59),(-6.72,-6.66),(-8.96,-6.6),(-5.74,-6.72),(-4.65,-6.69),(-5.42,-6.89),(-7.39,-6.86),(-8.01,-7.02),(-11.07,-7.31),(-7.93,-7.47),(-5.88,-9.50),
]

inter_fit_x = [-43.57, -4.5]
inter_fit_y = [-12.89, -8.14]
intra_fit_x = [-11.08, -1.48]
intra_fit_y = [-8.43, -3.28]

x_ticks = [-40, -30, -20, -10, 0]
x_tick_labels = ["-40", "-30", "-20", "-10", "0"]
y_ticks = [0, -5, -10, -15, -20]
y_tick_labels = ["0", "-5", "-10", "-15", "-20"]
x_title = "Predicted trade based on traffic (log)"
y_title = "Observed trade from CFS (log)"
inter_name = "Inter-state trade (correlation:0.47)"
intra_name = "Intra-state trade (correlation:0.73)"
legend_pad = "\u00a0\u00a0\u00a0"

NAVY = "#1a476f"
MAROON = "#90353b"
BG = "#eaf2f3"
FONT = "Liberation Sans"
FS = 31.8
LEGEND_FS = 31.6

all_inter = inter_points + inter_points_dense

fig = go.Figure()
fig.add_trace(go.Scatter(x=[p[0] for p in all_inter], y=[p[1] for p in all_inter], mode="markers",
                         name=inter_name + legend_pad, legendgroup="a", marker=dict(color=NAVY, size=7, line=dict(width=0))))
fig.add_trace(go.Scatter(x=[p[0] for p in intra_points], y=[p[1] for p in intra_points], mode="markers",
                         name=intra_name + legend_pad, legendgroup="b", marker=dict(color=MAROON, size=7, line=dict(width=0))))
fig.add_trace(go.Scatter(x=inter_fit_x, y=inter_fit_y, mode="lines", showlegend=False,
                         line=dict(color=NAVY, width=3)))
fig.add_trace(go.Scatter(x=intra_fit_x, y=intra_fit_y, mode="lines", showlegend=False,
                         line=dict(color=MAROON, width=3)))

fig.update_layout(
    width=1246, height=903, autosize=False,
    margin=dict(l=123, r=30, t=31, b=244),
    paper_bgcolor=BG, plot_bgcolor="white",
    font=dict(family=FONT, size=FS, color="black"),
    showlegend=True,
    legend=dict(x=0.2544, y=-0.1656, xanchor="left", yanchor="top", bgcolor="white",
                bordercolor="black", borderwidth=1.5, font=dict(size=LEGEND_FS),
                tracegroupgap=1, itemsizing="trace", indentation=-5),
)
fig.update_xaxes(range=[-44.56, 0.79], tickvals=x_ticks, ticktext=x_tick_labels, ticks="outside", ticklen=12, tickwidth=1.5,
                 tickcolor="black", showline=True, linecolor="black", linewidth=1.5, showgrid=False,
                 zeroline=False, ticklabelstandoff=-10,
                 title=dict(text=x_title, standoff=2, font=dict(size=FS)), tickfont=dict(size=FS))
fig.update_yaxes(range=[-20.68, 0.68], tickvals=y_ticks, ticktext=y_tick_labels, ticks="outside", ticklen=12, tickwidth=1.5,
                 tickcolor="black", showline=True, linecolor="black", linewidth=1.5, showgrid=True,
                 gridcolor=BG, gridwidth=3, zeroline=False, tickangle=-90,
                 title=dict(text=y_title, standoff=0, font=dict(size=FS)), tickfont=dict(size=FS))

fig.write_html("out.html", post_script="document.body.style.margin='2px 0 0 6px';")
